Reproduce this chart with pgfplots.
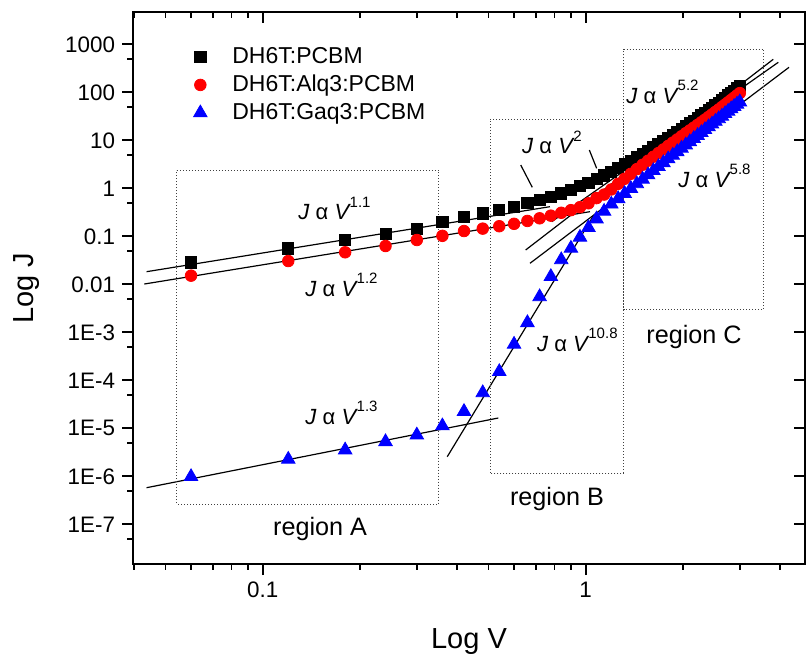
\documentclass[border=0pt]{standalone}
\usepackage{fontspec}
\setmainfont{Liberation Sans}
\usepackage{pgfplots}
\usepackage{pgfplotstable}
\pgfplotsset{compat=1.18}

\newcommand{\Jal}[1]{\textit{J} α \textit{V}\kern-0.6pt\raisebox{1.05ex}{\fontsize{7.5}{8}\selectfont #1}}

\pgfplotsset{
  mylegmark/.style={legend image code/.code={%
    \path[draw=none,fill=none] (0pt,0pt) -- (27pt,0pt);
    \draw[mark repeat=2,mark phase=2,##1] plot coordinates {(0pt,0pt) (13pt,0pt) (26pt,0pt)};}},
}

% J-V data, V in volts
\pgfplotstableread{
V J
0.06 0.0287
0.12 0.0562
0.18 0.0838
0.24 0.1117
0.30 0.1442
0.36 0.1995
0.42 0.2489
0.48 0.3013
0.54 0.3532
0.60 0.4140
0.66 0.5012
0.72 0.5702
0.78 0.6683
0.84 0.7870
0.90 0.9226
0.96 1.117
1.02 1.309
1.08 1.563
1.14 1.862
1.20 2.218
1.26 2.651
1.32 3.153
1.38 3.737
1.44 4.416
1.50 5.195
1.56 6.091
1.62 7.122
1.68 8.303
1.74 9.643
1.80 11.18
1.86 12.92
1.92 14.89
1.98 17.12
2.04 19.62
2.10 22.45
2.16 25.65
2.22 29.22
2.28 33.19
2.34 37.65
2.40 42.64
2.46 48.17
2.52 54.36
2.58 61.22
2.64 68.82
2.70 77.27
2.76 86.54
2.82 96.78
2.88 108.2
2.94 120.6
3.00 134.4
}\pcbm

\pgfplotstableread{
V J
0.06 0.01514
0.12 0.03055
0.18 0.04645
0.24 0.06281
0.30 0.08375
0.36 0.1023
0.42 0.1288
0.48 0.1445
0.54 0.1622
0.60 0.1820
0.66 0.2089
0.72 0.2371
0.78 0.2692
0.84 0.3090
0.90 0.3508
0.96 0.4046
1.02 0.4875
1.08 0.6252
1.14 0.7413
1.20 0.9462
1.26 1.240
1.32 1.580
1.38 2.007
1.44 2.512
1.50 3.094
1.56 3.756
1.62 4.547
1.68 5.423
1.74 6.446
1.80 7.647
1.86 8.934
1.92 10.42
1.98 12.12
2.04 14.05
2.10 16.08
2.16 18.37
2.22 20.93
2.28 23.77
2.34 26.97
2.40 30.53
2.46 34.50
2.52 38.94
2.58 43.84
2.64 49.28
2.70 55.34
2.76 61.97
2.82 69.31
2.88 77.48
2.94 86.38
3.00 96.23
}\alq

\pgfplotstableread{
V J
0.06 9.82e-7
0.12 2.26e-6
0.18 3.53e-6
0.24 5.25e-6
0.30 7.24e-6
0.36 1.122e-5
0.42 2.239e-5
0.48 5.495e-5
0.54 1.514e-4
0.60 5.623e-4
0.66 1.585e-3
0.72 5.495e-3
0.78 0.01445
0.84 0.03236
0.90 0.05623
0.96 0.09550
1.02 0.1514
1.08 0.2291
1.14 0.3311
1.20 0.4677
1.26 0.6073
1.32 0.7788
1.38 0.9879
1.44 1.241
1.50 1.543
1.56 1.903
1.62 2.328
1.68 2.829
1.74 3.412
1.80 4.094
1.86 4.877
1.92 5.779
1.98 6.817
2.04 7.991
2.10 9.333
2.16 10.86
2.22 12.58
2.28 14.49
2.34 16.65
2.40 19.07
2.46 21.76
2.52 24.76
2.58 28.08
2.64 31.76
2.70 35.84
2.76 40.29
2.82 45.17
2.88 50.60
2.94 56.46
3.00 62.92
}\gaq

\begin{document}
\begin{tikzpicture}
\useasboundingbox (-66.5pt,-47pt) rectangle (336.5pt,282pt);

% mirrored ticks on top and right, pointing inwards
\begin{axis}[
    width=336pt, height=276pt, scale only axis,
    xmode=log, ymode=log,
    xmin=0.03967, xmax=4.775, ymin=1.49e-8, ymax=4710,
    xtick={0.1,1},
    minor xtick={0.04,0.05,0.06,0.07,0.08,0.09,0.2,0.3,0.4,0.5,0.6,0.7,0.8,0.9,2,3,4},
    ytick={1e-7,1e-6,1e-5,1e-4,1e-3,0.01,0.1,1,10,100,1000},
    minor ytick={5e-8,5e-7,5e-6,5e-5,5e-4,5e-3,0.05,0.5,5,50,500},
    major tick length=5.5pt, minor tick length=2.8pt,
    every tick/.style={black, line width=0.9pt},
    axis line style={line width=1pt},
    tick align=inside, xtick pos=right, ytick pos=right,
    xticklabels={}, yticklabels={},
    minor y tick style={draw=none},
]
\end{axis}

\begin{axis}[
    width=336pt, height=276pt, scale only axis,
    xmode=log, ymode=log,
    xmin=0.03967, xmax=4.775, ymin=1.49e-8, ymax=4710,
    xtick={0.1,1},
    minor xtick={0.04,0.05,0.06,0.07,0.08,0.09,0.2,0.3,0.4,0.5,0.6,0.7,0.8,0.9,2,3,4},
    ytick={1e-7,1e-6,1e-5,1e-4,1e-3,0.01,0.1,1,10,100,1000},
    minor ytick={5e-8,5e-7,5e-6,5e-5,5e-4,5e-3,0.05,0.5,5,50,500},
    major tick length=5.5pt, minor tick length=2.8pt,
    every tick/.style={black, line width=0.9pt},
    axis line style={line width=1pt},
    tick align=outside, xtick pos=left, ytick pos=left,
    xticklabels={0.1,1},
    yticklabels={1E-7,1E-6,1E-5,1E-4,1E-3,0.01,0.1,1,10,100,1000},
    tick label style={font=\fontsize{11.2}{13}\selectfont},
    xlabel={Log V}, ylabel={Log J},
    label style={font=\fontsize{14.5}{16}\selectfont},
    xlabel style={at={(axis description cs:0.5,-0.14)}, anchor=center},
    ylabel style={at={(axis description cs:-0.159,0.5)}, anchor=center},
    legend style={draw=none, fill=none, at={(axis description cs:0.052,0.951)},
      anchor=north west, font=\fontsize{11.5}{13}\selectfont, row sep=0.3pt},
    legend cell align=left,
]
\addplot[only marks, mark=square*, mark size=2.8pt, black, mylegmark] table {\pcbm};
\addlegendentry{DH6T:PCBM}
\addplot[only marks, mark=*, mark size=2.9pt, red, mylegmark] table {\alq};
\addlegendentry{DH6T:Alq3:PCBM}
\addplot[only marks, mark=triangle*, mark size=3.9pt, blue, mylegmark] table {\gaq};
\addlegendentry{DH6T:Gaq3:PCBM}

% fitted power laws
\addplot[black, line width=0.6pt, forget plot] coordinates {(0.0437,0.01832) (0.775,0.414)};
\addplot[black, line width=0.6pt, forget plot] coordinates {(0.043,0.01014) (1.031,0.326)};
\addplot[black, line width=0.6pt, forget plot] coordinates {(0.0437,5.79e-7) (0.5363,1.64e-5)};
\addplot[black, line width=0.6pt, forget plot] coordinates {(0.3727,2.56e-6) (1.056,0.266)};
\addplot[black, line width=0.6pt, forget plot] coordinates {(0.6518,0.0519) (3.809,486.9)};
\addplot[black, line width=0.6pt, forget plot] coordinates {(0.7847,0.2014) (3.948,421.7)};
\addplot[black, line width=0.6pt, forget plot] coordinates {(0.6723,0.0274) (4.26,331.7)};
% leaders for V^2
\addplot[black, line width=0.6pt, forget plot] coordinates {(0.6293,3.055) (0.6833,1.049)};
\addplot[black, line width=0.6pt, forget plot] coordinates {(1.026,6.28) (1.081,2.61)};

% region boxes
\addplot[densely dotted, line width=0.5pt, black!75, forget plot] coordinates
  {(0.0542,2.40) (0.3498,2.40) (0.3498,2.65e-7) (0.0542,2.65e-7) (0.0542,2.40)};
\addplot[densely dotted, line width=0.5pt, black!75, forget plot] coordinates
  {(0.5055,26.5) (1.31,26.5) (1.31,1.155e-6) (0.5055,1.155e-6) (0.5055,26.5)};
\addplot[densely dotted, line width=0.5pt, black!75, forget plot] coordinates
  {(1.31,798) (3.547,798) (3.547,2.92e-3) (1.31,2.92e-3) (1.31,798)};

\begin{scope}[every node/.style={inner sep=0pt, font=\fontsize{11}{13}\selectfont}]
\node[anchor=base west] at (axis cs:0.1286,0.2188) {\Jal{1.1}};
\node[anchor=base west] at (axis cs:0.1352,5.70e-3) {\Jal{1.2}};
\node[anchor=base west] at (axis cs:0.1352,1.23e-5) {\Jal{1.3}};
\node[anchor=base west] at (axis cs:0.7052,4.07e-4) {\Jal{10.8}};
\node[anchor=base west] at (axis cs:0.634,5.19) {\Jal{2}};
\node[anchor=base west] at (axis cs:1.333,59.8) {\Jal{5.2}};
\node[anchor=base west] at (axis cs:1.931,1.064) {\Jal{5.8}};
\node[anchor=base, font=\fontsize{12.6}{14}\selectfont] at (axis cs:0.1505,5.98e-8) {region A};
\node[anchor=base, font=\fontsize{12.6}{14}\selectfont] at (axis cs:0.815,2.52e-7) {region B};
\node[anchor=base, font=\fontsize{12.6}{14}\selectfont] at (axis cs:2.164,5.98e-4) {region C};
\end{scope}
\end{axis}
\end{tikzpicture}
\end{document}
